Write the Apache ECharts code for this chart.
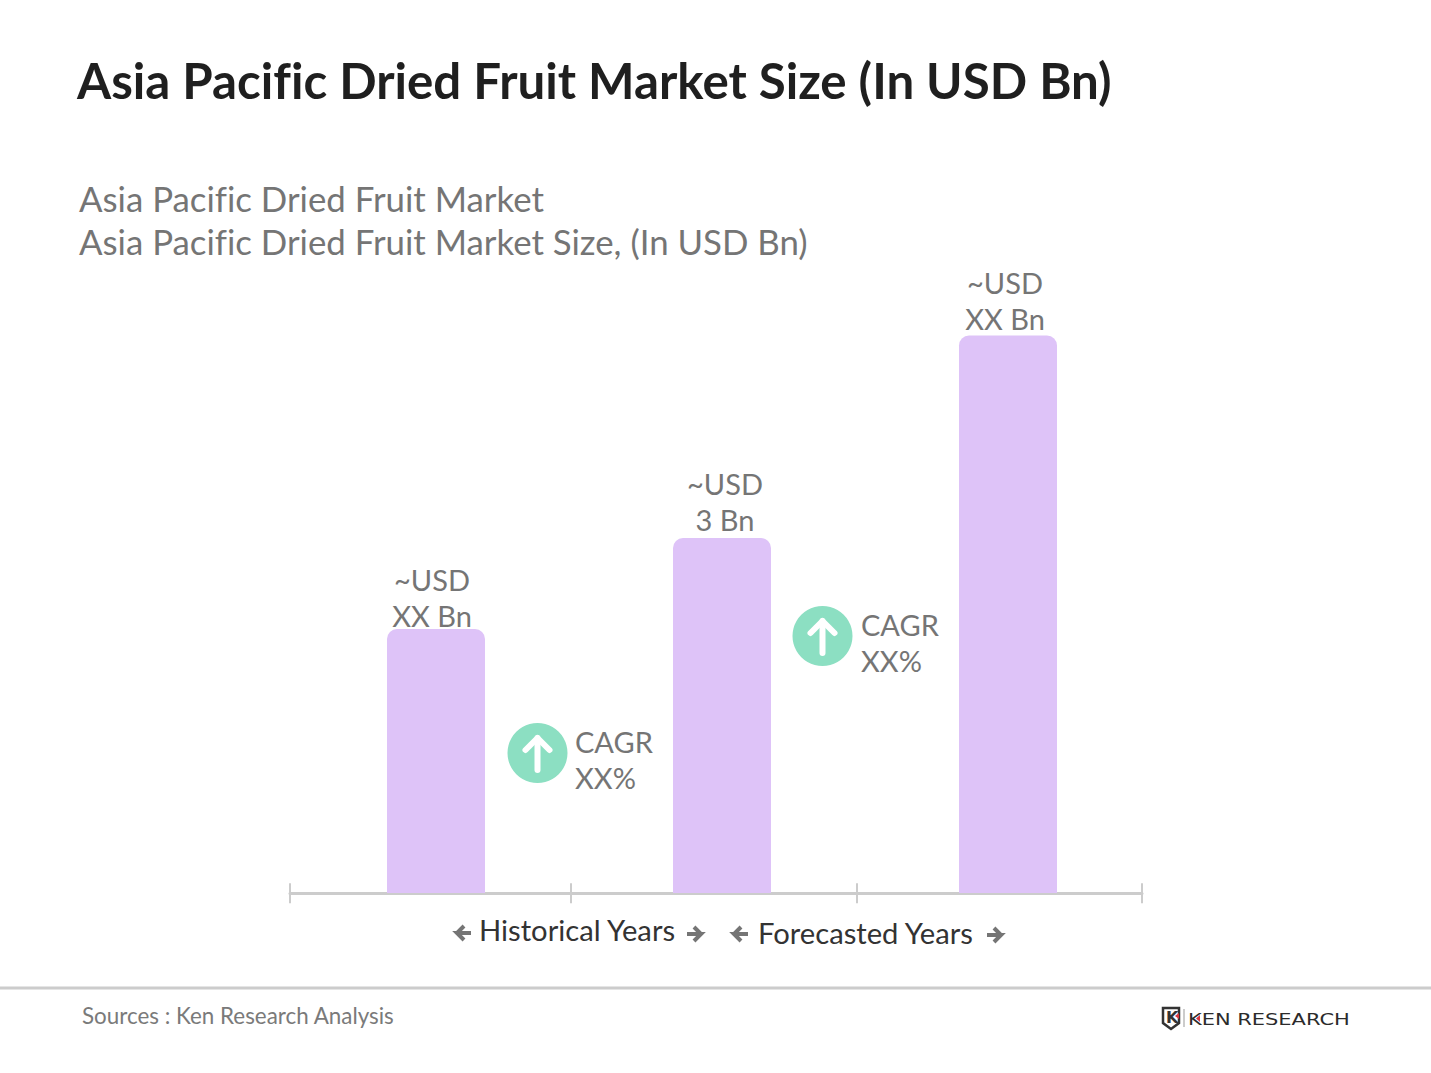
<!DOCTYPE html>
<html>
<head>
<meta charset="utf-8">
<title>Asia Pacific Dried Fruit Market Size</title>
<script src="https://cdn.jsdelivr.net/npm/echarts@6/dist/echarts.min.js"></script>
<style>
  html, body { margin: 0; padding: 0; background: #fff; }
  #chart { width: 1431px; height: 1073px; }
  #chart text { font-variant-ligatures: none !important; }
</style>
</head>
<body>
<div id="chart"></div>
<script>
// values, scaled from the one labelled bar (3 Bn)
var categories = ['Base year', 'Current year', 'Forecast year'];
var marketSize = [2.23, 3, 4.71];
var barLabels = ['~USD\nXX Bn', '~USD\n3 Bn', '~USD\nXX Bn'];
var periodBreaks = [0, 0.99, 1.995, 3];
var cagrLabels = ['CAGR\nXX%', 'CAGR\nXX%'];
var periodLabels = ['Historical Years', 'Forecasted Years'];

var FONT = 'Lato, "Open Sans", sans-serif';
var GREY = '#757575';

// svg renderer so the css above can switch off the fi ligature
var chart = echarts.init(document.getElementById('chart'), null, { renderer: 'svg' });

// green circle with up arrow + CAGR text
function cagrBadge(cx, cy, label, tx, ty) {
  return [
    { type: 'circle', shape: { cx: cx, cy: cy, r: 30 }, style: { fill: '#8CDFC2' } },
    { type: 'polyline', shape: { points: [[cx, cy + 17], [cx, cy - 15]] },
      style: { stroke: '#fff', lineWidth: 6, lineCap: 'round', fill: null } },
    { type: 'polyline', shape: { points: [[cx - 12, cy - 3], [cx, cy - 15], [cx + 12, cy - 3]] },
      style: { stroke: '#fff', lineWidth: 6, lineCap: 'round', lineJoin: 'round', fill: null } },
    { type: 'text', x: tx, y: ty,
      style: { text: label, font: '29px ' + FONT, fill: GREY, lineHeight: 36 } }
  ];
}

// small grey arrow beside the period labels, dir -1 left, 1 right
function sideArrow(x, y, dir) {
  return { type: 'polyline',
    shape: { points: [[x + dir * 6, y - 7], [x + dir * 13, y], [x + dir * 6, y + 7], [x + dir * 13, y], [x - dir * 1, y]] },
    style: { stroke: '#757575', lineWidth: 4, fill: null } };
}

var graphics = [
  { type: 'line', shape: { x1: 0, y1: 988, x2: 1431, y2: 988 }, style: { stroke: '#CCCCCC', lineWidth: 3 } },
  { type: 'text', x: 479, y: 915, style: { text: periodLabels[0], font: '29.2px ' + FONT, fill: '#333' } },
  { type: 'text', x: 758, y: 918, style: { text: periodLabels[1], font: '29.2px ' + FONT, fill: '#333' } },
  sideArrow(470, 933, -1), sideArrow(688, 934, 1), sideArrow(747, 934, -1), sideArrow(988, 935, 1),
  { type: 'text', x: 82, y: 1004, style: { text: 'Sources : Ken Research Analysis', font: '22.4px ' + FONT, fill: '#7A7A7A' } },
  // logo
  { type: 'polygon', shape: { points: [[1163, 1008], [1179, 1008], [1179, 1023], [1171, 1029], [1163, 1023]] },
    style: { fill: '#fff', stroke: '#333', lineWidth: 2.5 } },
  { type: 'text', x: 1166, y: 1009, style: { text: 'K', font: 'bold 16px "DejaVu Sans"', fill: '#333' } },
  { type: 'polygon', shape: { points: [[1179, 1013], [1179, 1019], [1175, 1016]] }, style: { fill: '#D9363E' } },
  { type: 'line', shape: { x1: 1184, y1: 1009, x2: 1184, y2: 1027 }, style: { stroke: '#999', lineWidth: 1 } },
  { type: 'text', x: 1188, y: 1011, scaleX: 1.31,
    style: { text: 'KEN RESEARCH', font: '16px "DejaVu Sans"', fill: '#2b2b2b' } },
  { type: 'polygon', shape: { points: [[1200, 1015], [1200, 1022], [1196, 1018.5]] }, style: { fill: '#D9363E' } }
].concat(cagrBadge(537.5, 753, cagrLabels[0], 575, 723), cagrBadge(822.5, 636, cagrLabels[1], 861, 606));

// label nudges so the text sits where the source has it
var labelOffsets = [[-4, 4], [3, 0], [-3, 1]];

chart.setOption({
  animation: false,
  backgroundColor: '#fff',
  title: [
    { text: 'Asia Pacific Dried Fruit Market Size (In USD Bn)', left: 77, top: 55, padding: 0,
      textStyle: { fontFamily: FONT, fontSize: 49.25, fontWeight: 'bold', color: '#1f1f1f' } },
    { text: 'Asia Pacific Dried Fruit Market\nAsia Pacific Dried Fruit Market Size, (In USD Bn)', left: 79, top: 177, padding: 0,
      textStyle: { fontFamily: FONT, fontSize: 34.8, fontWeight: 'normal', color: GREY, lineHeight: 43 } }
  ],
  grid: [
    { left: 293, width: 858, top: 301.3, height: 591.7 },
    { left: 290, width: 852, top: 301.3, height: 592 }
  ],
  xAxis: [
    { type: 'category', gridIndex: 0, data: categories, show: false },
    { type: 'value', gridIndex: 1, min: 0, max: 3, splitLine: { show: false }, axisLabel: { show: false },
      axisLine: { show: true, lineStyle: { color: '#CCCCCC', width: 3 } },
      axisTick: { show: true, length: 10, customValues: periodBreaks, lineStyle: { color: '#CCCCCC', width: 2 } } },
    { type: 'value', gridIndex: 1, position: 'bottom', min: 0, max: 3, splitLine: { show: false }, axisLabel: { show: false },
      axisLine: { show: false },
      axisTick: { show: true, inside: true, length: 10, customValues: periodBreaks, lineStyle: { color: '#CCCCCC', width: 2 } } }
  ],
  yAxis: [
    { type: 'value', gridIndex: 0, min: 0, max: 5, show: false },
    { type: 'value', gridIndex: 1, min: 0, max: 5, show: false }
  ],
  series: [{
    type: 'bar',
    xAxisIndex: 0,
    yAxisIndex: 0,
    data: marketSize.map(function (v, i) {
      return { value: v, label: { offset: labelOffsets[i] } };
    }),
    barWidth: 98,
    itemStyle: { color: '#DEC3F8', borderRadius: [10, 10, 0, 0] },
    label: {
      show: true,
      position: 'top',
      distance: 0,
      fontFamily: FONT,
      fontSize: 29,
      lineHeight: 36,
      color: GREY,
      formatter: function (p) { return barLabels[p.dataIndex]; }
    }
  }],
  graphic: { elements: graphics }
});
</script>
</body>
</html>
